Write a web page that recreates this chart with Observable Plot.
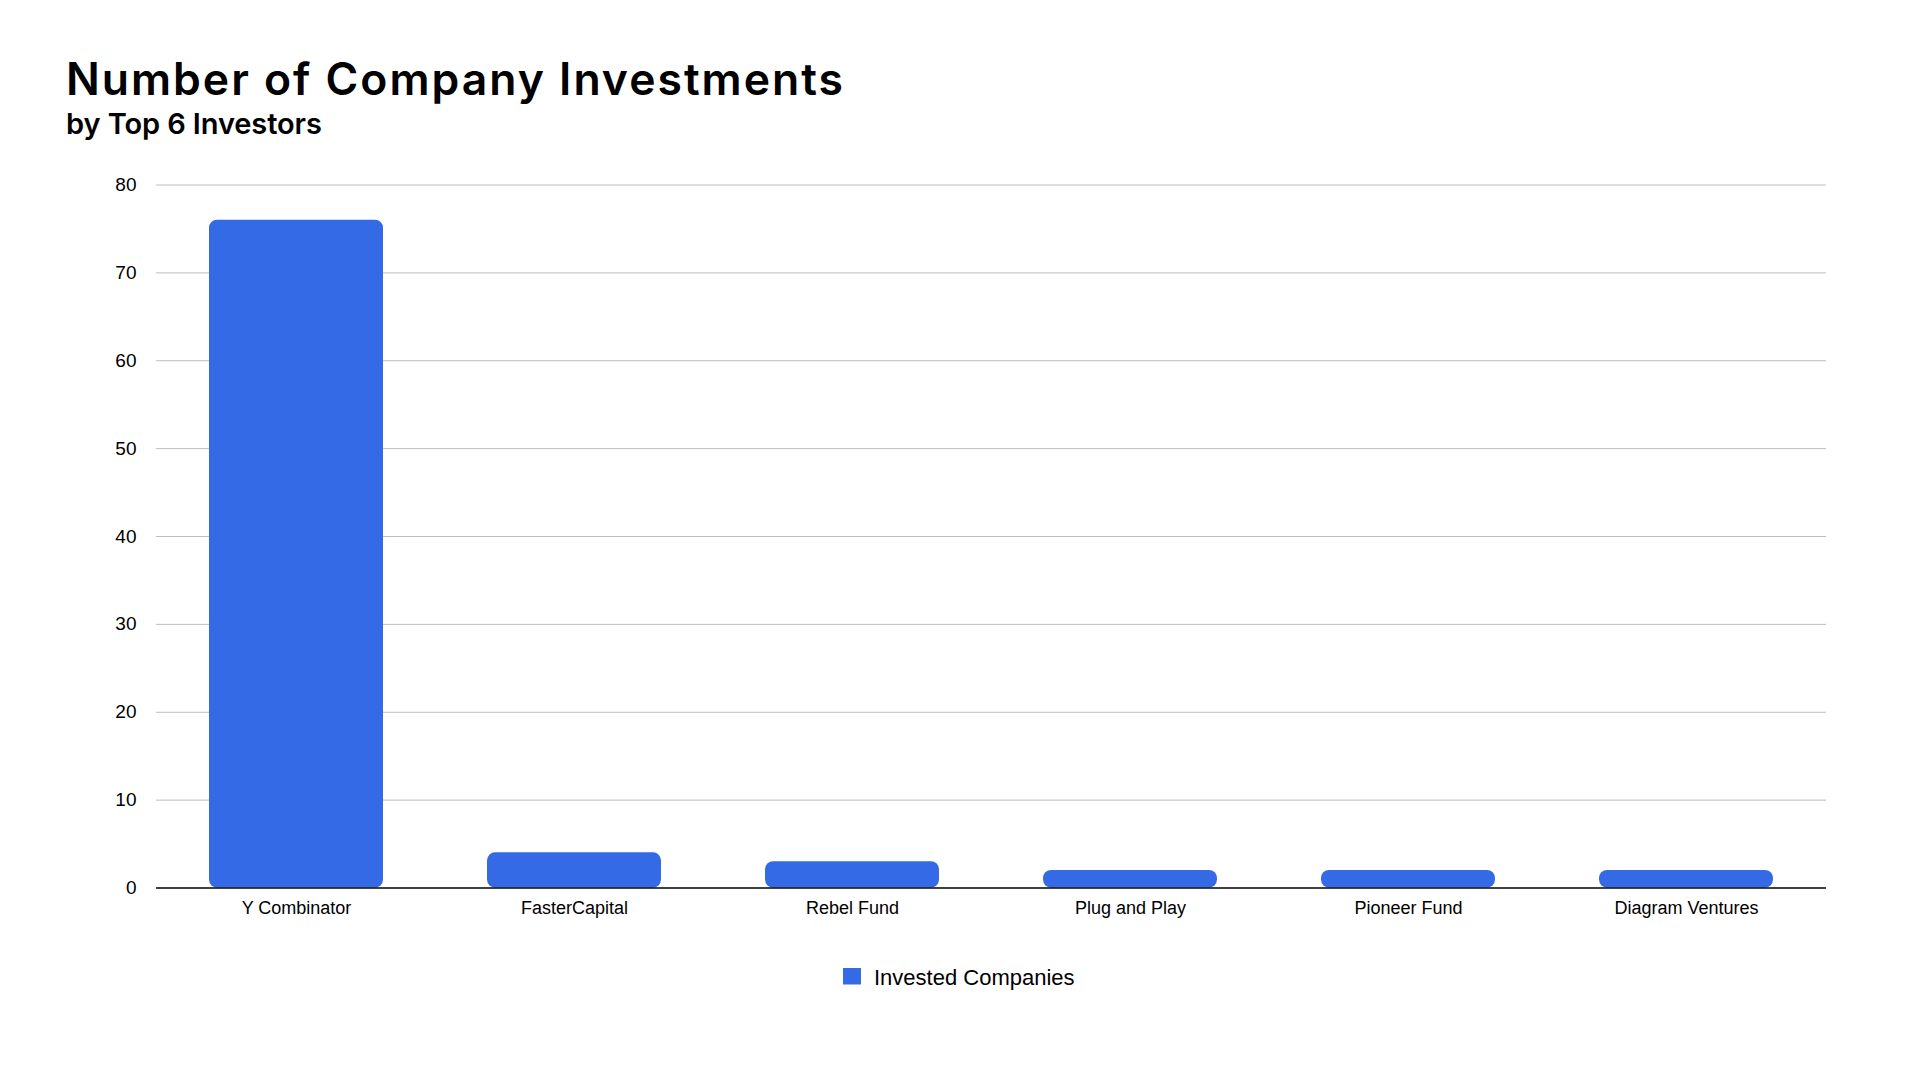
<!DOCTYPE html>
<html>
<head>
<meta charset="utf-8">
<script src="https://cdn.jsdelivr.net/npm/d3@7"></script>
<script src="https://cdn.jsdelivr.net/npm/@observablehq/plot@0.6"></script>
<style>
  html, body { margin: 0; padding: 0; background: #fff; }
  #page { position: relative; width: 1920px; height: 1080px; background: #fff; overflow: hidden; }
  #chart { position: absolute; left: 0; top: 0; }
  #overlay { position: absolute; left: 0; top: 0; }
  #chart g[aria-label^="y-axis"] text { font-size: 19px; }
</style>
</head>
<body>
<div id="page">
  <div id="chart"></div>
  <svg id="overlay" width="1920" height="1080"></svg>
</div>
<script>
// ---- data ----
const titleText = "Number of Company Investments";
const subtitleText = "by Top 6 Investors";
const seriesName = "Invested Companies";
const investors = ["Y Combinator", "FasterCapital", "Rebel Fund", "Plug and Play", "Pioneer Fund", "Diagram Ventures"];
const counts = [76, 4, 3, 2, 2, 2];
const yTicks = [0, 10, 20, 30, 40, 50, 60, 70, 80];

const data = investors.map((d, i) => ({investor: d, count: counts[i]}));
const barColor = "#346ae6";

const chart = Plot.plot({
  width: 1920,
  height: 940,
  marginLeft: 156,
  marginRight: 94,
  marginTop: 184.5,
  marginBottom: 52.5,
  style: {fontFamily: "'Liberation Sans', Arial, sans-serif", fontSize: "18px", color: "#000", background: "transparent", overflow: "visible"},
  x: {domain: investors, paddingInner: 0.375, paddingOuter: 0.1875, label: null, tickSize: 0, tickPadding: 13},
  y: {domain: [0, 80], ticks: yTicks, label: null, tickSize: 0, tickPadding: 20, tickFormat: d => String(d)},
  marks: [
    Plot.ruleY(yTicks.filter(t => t !== 0), {stroke: "#bdbdbd", strokeWidth: 1}),
    Plot.barY(data, {x: "investor", y: "count", fill: barColor, rx: 8}),
    Plot.ruleY([0], {stroke: "#000", strokeWidth: 1.4})
  ]
});
document.getElementById("chart").appendChild(chart);

// ---- titles and legend ----
const svg = d3.select("#overlay");
const canvas = document.createElement("canvas").getContext("2d");
function fitText(sel, text, font, target) {
  canvas.font = font;
  const w = canvas.measureText(text).width;
  const ls = (target - w) / Math.max(1, text.length - 1);
  sel.attr("letter-spacing", ls.toFixed(2) + "px");
}
const tFont = "600 44.5px Inter";
const title = svg.append("text").attr("x", 66).attr("y", 94.5)
  .style("font", tFont).attr("fill", "#000").text(titleText);
const sFont = "600 29px Inter";
const sub = svg.append("text").attr("x", 66).attr("y", 133.5)
  .style("font", sFont).attr("fill", "#000").text(subtitleText);
function fitAll() {
  fitText(title, titleText, tFont, 777);
  fitText(sub, subtitleText, sFont, 256);
}
fitAll();
if (document.fonts) document.fonts.ready.then(fitAll);

const leg = svg.append("g");
leg.append("rect").attr("x", 843).attr("y", 968).attr("width", 18).attr("height", 16.5).attr("fill", barColor);
leg.append("text").attr("x", 874).attr("y", 984.5)
  .style("font", "22px 'Liberation Sans', Arial, sans-serif").attr("fill", "#000").text(seriesName);
</script>
</body>
</html>
